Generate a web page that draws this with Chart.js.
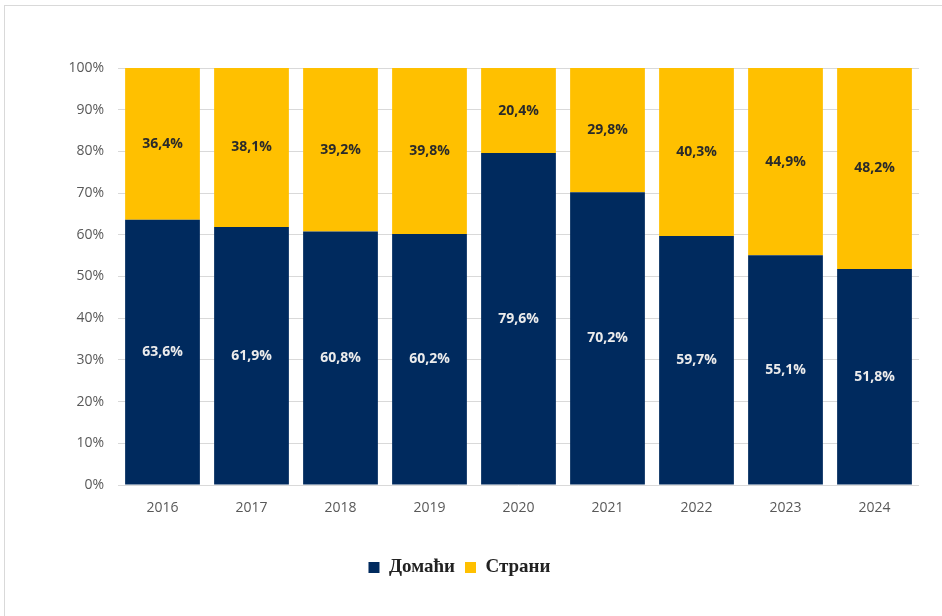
<!DOCTYPE html>
<html>
<head>
<meta charset="utf-8">
<script src="https://cdn.jsdelivr.net/npm/chart.js@4/dist/chart.umd.min.js"></script>
<style>
html,body{margin:0;padding:0;background:#fff;}
#wrap{position:relative;width:942px;height:616px;}
#frame{position:absolute;left:4px;top:5px;width:940px;height:620px;border-top:1px solid #d9d9d9;border-left:1px solid #d9d9d9;}
canvas{position:absolute;left:0;top:0;}
</style>
</head>
<body>
<div id="wrap"><div id="frame"></div><canvas id="c" width="942" height="616"></canvas></div>
<script>
const years = ['2016','2017','2018','2019','2020','2021','2022','2023','2024'];
const domestic = [63.6, 61.9, 60.8, 60.2, 79.6, 70.2, 59.7, 55.1, 51.8];
const foreign = [36.4, 38.1, 39.2, 39.8, 20.4, 29.8, 40.3, 44.9, 48.2];
const seriesNames = ['Домаћи', 'Страни'];

const fmt = v => v.toFixed(1).replace('.', ',') + '%';

const labelPlugin = {
  id: 'barLabels',
  afterDatasetsDraw(chart) {
    const ctx = chart.ctx;
    ctx.save();
    ctx.font = 'bold 14px "Open Sans", sans-serif';
    ctx.textAlign = 'center';
    ctx.textBaseline = 'middle';
    chart.data.datasets.forEach((ds, di) => {
      const meta = chart.getDatasetMeta(di);
      ctx.fillStyle = di === 0 ? '#ececec' : '#2a2a2a';
      meta.data.forEach((bar, i) => {
        const p = bar.getProps(['x', 'y', 'base'], true);
        ctx.fillText(fmt(ds.data[i]), p.x, (p.y + p.base) / 2);
      });
    });
    ctx.restore();
  }
};

new Chart(document.getElementById('c'), {
  type: 'bar',
  data: {
    labels: years,
    datasets: [
      { label: seriesNames[0], data: domestic, backgroundColor: '#002a5e' },
      { label: seriesNames[1], data: foreign, backgroundColor: '#ffc000' }
    ]
  },
  options: {
    responsive: false,
    animation: false,
    devicePixelRatio: 1,
    layout: { padding: { left: 0, right: 23, top: 68, bottom: 29 } },
    datasets: { bar: { categoryPercentage: 1, barPercentage: 0.84 } },
    scales: {
      x: {
        stacked: true,
        grid: { display: false, drawTicks: false },
        border: { display: false },
        ticks: { color: '#595959', font: { family: '"Open Sans", sans-serif', size: 14 }, padding: 15 },
        afterFit: s => { s.height = 63; }
      },
      y: {
        stacked: true,
        min: 0, max: 100,
        grid: { color: '#d9d9d9', drawTicks: false },
        border: { display: false },
        ticks: { stepSize: 10, color: '#595959', font: { family: '"Open Sans", sans-serif', size: 14 }, padding: 14, callback: v => v + '%' },
        afterFit: s => { s.width = 118; }
      }
    },
    plugins: {
      legend: {
        position: 'bottom',
        labels: {
          boxWidth: 11, boxHeight: 11, padding: 10,
          color: '#222',
          font: { family: '"Liberation Serif", serif', size: 19, weight: 'bold' }
        }
      },
      tooltip: { enabled: false }
    }
  },
  plugins: [labelPlugin]
});
</script>
</body>
</html>
